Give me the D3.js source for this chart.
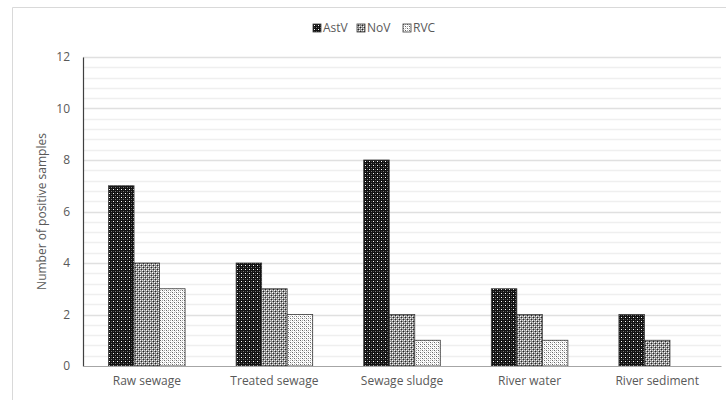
<!DOCTYPE html>
<html><head><meta charset="utf-8">
<script src="https://cdn.jsdelivr.net/npm/d3@7"></script>
<style>body{margin:0;background:#fff}svg{display:block}</style>
</head><body>
<svg id="chart" width="726" height="400"></svg>
<script>
const categories = ["Raw sewage","Treated sewage","Sewage sludge","River water","River sediment"];
const seriesNames = ["AstV","NoV","RVC"];
const astv = [7,4,8,3,2];
const nov = [4,3,2,2,1];
const rvc = [3,2,1,1,0];
const yTicks = [0,2,4,6,8,10,12];
const series = [astv, nov, rvc];

const svg = d3.select("#chart");
const W = 726, H = 400;
const m = {left:83, right:5, top:57, bottom:34};
const font = "'Open Sans', 'Liberation Sans', sans-serif";
const txt = "#595959";

// patterns
const defs = svg.append("defs");
function pat(id, bg, dots){
  const p = defs.append("pattern").attr("id",id).attr("patternUnits","userSpaceOnUse")
    .attr("width",4).attr("height",4);
  p.append("rect").attr("width",4).attr("height",4).attr("fill",bg);
  dots.forEach(d=>p.append("rect").attr("x",d[0]).attr("y",d[1]).attr("width",1).attr("height",1).attr("fill",d[2]));
}
pat("pA","#111",[[1,1,"#fff"],[3,3,"#777"],[3,1,"#444"],[1,3,"#444"]]);
pat("pN","#8a8a8a",[[0,0,"#fff"],[2,2,"#fff"],[1,1,"#222"],[3,3,"#222"],[0,2,"#ddd"],[2,0,"#ddd"]]);
pat("pR","#fff",[[0,0,"#666"],[2,0,"#aaa"],[0,2,"#aaa"],[2,2,"#666"],[1,1,"#ddd"],[3,3,"#ddd"]]);
const fills = ["url(#pA)","url(#pN)","url(#pR)"];

// outer border
svg.append("path").attr("d","M12.5,400 V7.5 H726").attr("fill","none").attr("stroke","#d9d9d9");

const x = d3.scaleBand().domain(categories).range([m.left, W-m.right]).paddingInner(0.4).paddingOuter(0.2);
const xs = d3.scaleBand().domain(seriesNames).range([0, x.bandwidth()]);
const y = d3.scaleLinear().domain([0,12]).range([H-m.bottom, m.top]);

// gridlines
const minor = d3.range(0,12.01,0.4).filter(v=>v>0.01);
svg.append("g").selectAll("line").data(minor).join("line")
  .attr("x1",m.left).attr("x2",W-m.right)
  .attr("y1",d=>Math.round(y(d))+0.5).attr("y2",d=>Math.round(y(d))+0.5)
  .attr("stroke",d=>Math.abs(d/2-Math.round(d/2))<0.01?"#e0e0e0":"#efefef").attr("stroke-width",1.5);

// bars
const g = svg.append("g");
categories.forEach((c,i)=>{
  seriesNames.forEach((s,j)=>{
    const v = series[j][i];
    if(v<=0) return;
    g.append("rect")
      .attr("x",x(c)+xs(s)).attr("y",y(v))
      .attr("width",xs.bandwidth()).attr("height",y(0)-y(v))
      .attr("fill",fills[j]).attr("stroke","#3a3a3a").attr("stroke-width",0.8);
  });
});

// axes
const yAxis = svg.append("g").attr("transform",`translate(${m.left},0)`)
  .call(d3.axisLeft(y).tickValues(yTicks).tickSize(0).tickPadding(13));
yAxis.select(".domain").attr("stroke","#404040").attr("stroke-width",1.2);
yAxis.selectAll("text").attr("fill",txt).style("font-family",font).style("font-size","12px");

const xAxis = svg.append("g").attr("transform",`translate(0,${H-m.bottom})`)
  .call(d3.axisBottom(x).tickSize(0).tickPadding(10));
xAxis.select(".domain").attr("stroke","#a6a6a6").attr("stroke-width",1.2);
xAxis.selectAll("text").attr("fill",txt).style("font-family",font).style("font-size","12px");

// y label
svg.append("text").attr("transform",`translate(46,${(m.top+H-m.bottom)/2}) rotate(-90)`)
  .attr("text-anchor","middle").attr("fill",txt).style("font-family",font).style("font-size","12px")
  .text("Number of positive samples");

// legend
const lg = svg.append("g").attr("transform","translate(313,28)");
const offs = [0,44,90];
seriesNames.forEach((s,j)=>{
  const gg = lg.append("g").attr("transform",`translate(${offs[j]},0)`);
  gg.append("rect").attr("x",0).attr("y",-4).attr("width",8).attr("height",8)
    .attr("fill",fills[j]).attr("stroke","#3a3a3a").attr("stroke-width",0.8);
  gg.append("text").attr("x",10).attr("y",4).attr("fill",txt)
    .style("font-family",font).style("font-size","12px").text(s);
});
</script>
</body></html>
